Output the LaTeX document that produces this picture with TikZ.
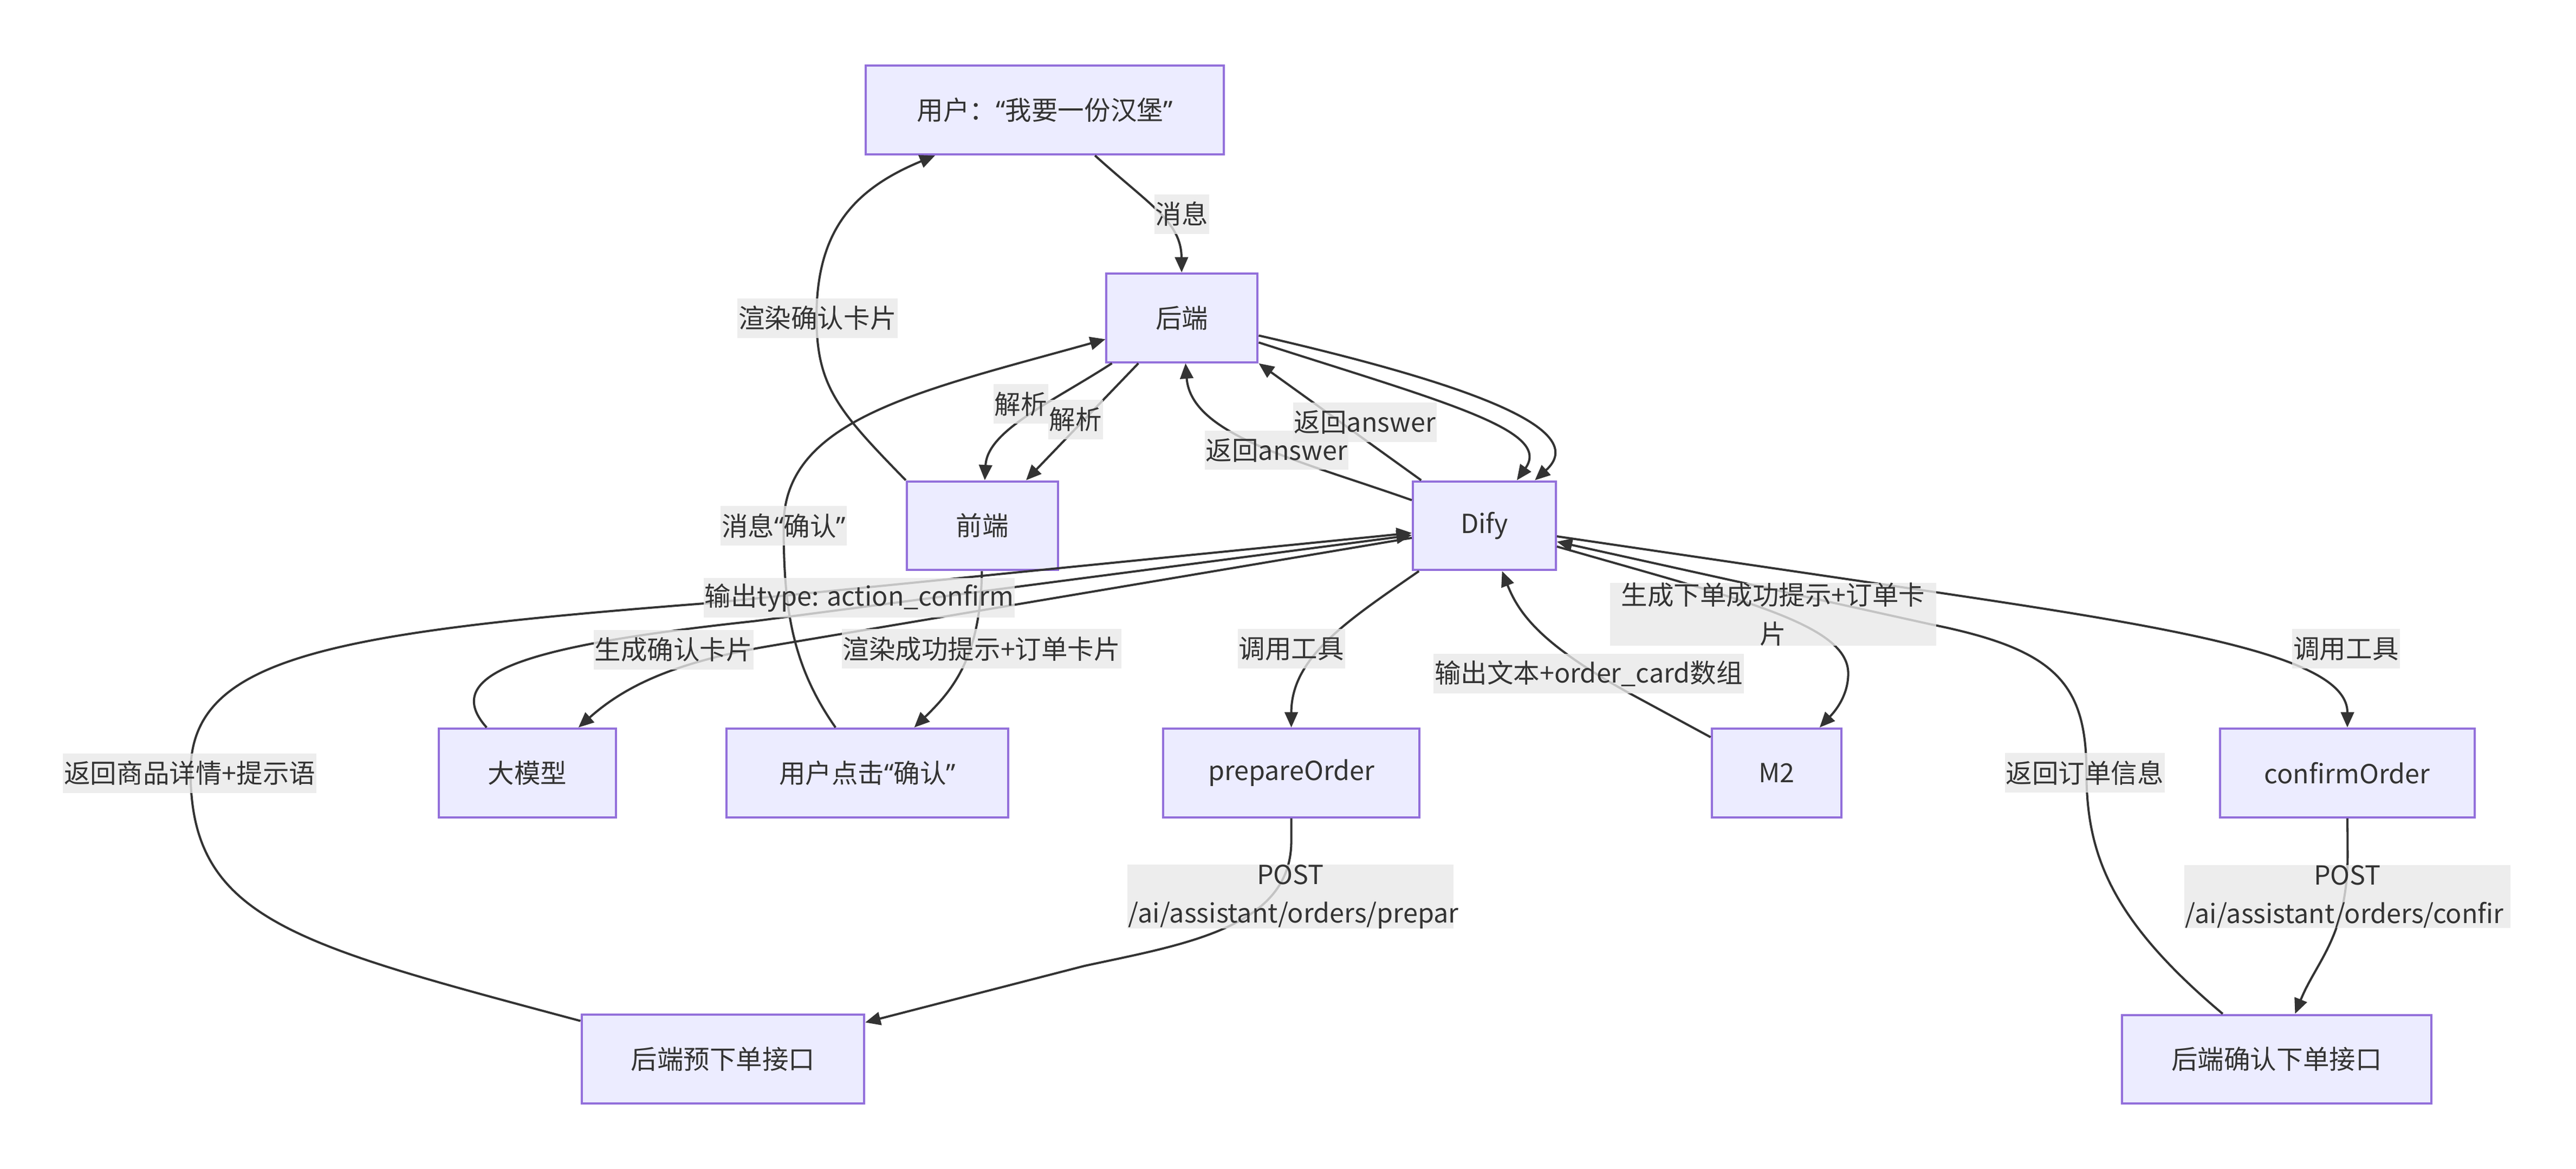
\documentclass[tikz,border=0pt]{standalone}
\usepackage{fontspec}
\setmainfont{Noto Sans CJK SC}
\newfontfamily\latinfont{Noto Sans}
\newcommand{\qopen}{{\latinfont “}}
\newcommand{\qclose}{{\latinfont ”}}
\usepackage{tikz}
\usetikzlibrary{arrows.meta, positioning}
\definecolor{nodefill}{HTML}{ECECFF}
\definecolor{nodeline}{HTML}{9370DB}
\definecolor{edgeline}{HTML}{333333}
\definecolor{lblgray}{HTML}{E8E8E8}

\begin{document}
\begin{tikzpicture}[
    x=0.75pt, y=-0.75pt,
    box/.style={draw=nodeline, line width=1pt, fill=nodefill, text=edgeline, inner xsep=22.5pt, inner ysep=0pt, minimum height=40.5pt, font=\fontsize{12}{17.6}\selectfont},
    lbl/.style={fill=lblgray, fill opacity=0.8, text opacity=1, text=edgeline, inner xsep=0.5pt, inner ysep=0pt, minimum height=18pt, font=\fontsize{12}{17.6}\selectfont},
    arrow/.style={-{Triangle[length=7pt, width=6pt]}, draw=edgeline, line width=1pt}
]
    \useasboundingbox (0,0) rectangle (1568,711.6);

    % Entities
    \node[box, inner xsep=15pt, minimum width=163.5pt] (user) at (636,67) {用户：\qopen 我要一份汉堡\qclose};
    \node[box] (backend) at (719.5,193.5) {后端};
    \node[box] (frontend) at (598,320) {前端};
    \node[box, inner xsep=15pt, minimum width=65.25pt] (dify) at (903.5,320) {Dify};
    \node[box] (llm) at (321,470.5) {大模型};
    \node[box, inner xsep=15pt, minimum width=128.6pt] (click) at (528,470.5) {用户点击\qopen 确认\qclose};
    \node[box, inner xsep=15pt, minimum width=117pt] (prepare) at (786,470.5) {prepareOrder};
    \node[box, inner xsep=15pt, minimum width=59.25pt] (mtwo) at (1081.4,470.5) {M2};
    \node[box, inner xsep=15pt, minimum width=116.25pt] (confirm) at (1428.7,470.5) {confirmOrder};
    \node[box] (preapi) at (440,644.7) {后端预下单接口};
    \node[box] (confapi) at (1385.8,644.8) {后端确认下单接口};

    % Relationships
    \draw[arrow] (user) .. controls (700,125) and (719,135) .. (backend);
    \draw[arrow] (frontend.north west) .. controls (510,250) and (497,235) .. (497,193) .. controls (497,140) and (520,115) .. (user);
    \draw[arrow] (backend) .. controls (640,245) and (601,262) .. (frontend);
    \draw[arrow] (backend) -- (frontend);
    \draw[arrow] (dify) .. controls (790,280) and (725,265) .. (backend);
    \draw[arrow] (dify) -- (backend.south east);
    \draw[arrow] (backend) .. controls (880,245) and (945,262) .. (dify);
    \draw[arrow] (backend) .. controls (900,235) and (968,262) .. (dify);
    \draw[arrow] (click) .. controls (482,405) and (477,370) .. (477,320) .. controls (477,255) and (560,238) .. (backend);
    \draw[arrow] (frontend) .. controls (597,400) and (580,420) .. (click);
    \draw[arrow] (dify) -- (470,393) .. controls (410,403) and (380,418) .. (llm);
    \draw[arrow] (llm) .. controls (265,408) and (330,392) .. (460,378) -- (dify);
    \draw[arrow] (preapi) .. controls (180,575) and (116,560) .. (116,470) .. controls (116,400) and (200,385) .. (433,367) -- (dify);
    \draw[arrow] (dify) .. controls (820,378) and (786,400) .. (prepare);
    \draw[arrow] (prepare) -- (786,512) .. controls (786,565) and (720,575) .. (660,588) -- (preapi);
    \draw[arrow] (dify) -- (1175,360) .. controls (1330,383) and (1429,400) .. (confirm);
    \draw[arrow] (confirm) -- (1429,520) .. controls (1429,570) and (1410,585) .. (confapi);
    \draw[arrow] (confapi) .. controls (1285,560) and (1270,520) .. (1270,470) .. controls (1270,415) and (1250,395) .. (1175,380) -- (dify);
    \draw[arrow] (dify) .. controls (1060,365) and (1125,380) .. (1125,410) .. controls (1125,425) and (1115,435) .. (mtwo);
    \draw[arrow] (mtwo) -- (990,421) .. controls (940,393) and (925,375) .. (dify);

    % Labels
    \node[lbl] (msg) at (719.3,130.3) {消息};
    \node[lbl] (rendercard) at (497.6,193.6) {渲染确认卡片};
    \node[lbl] (parseone) at (621.4,245.9) {解析};
    \node[lbl] (parsetwo) at (654.7,255.3) {解析};
    \node[lbl] (answerone) at (777,274) {返回answer};
    \node[lbl] (answertwo) at (830.8,257) {返回answer};
    \node[lbl] (msgconfirm) at (477,320) {消息\qopen 确认\qclose};
    \node[lbl] (rendersuccess) at (597.5,395) {渲染成功提示+订单卡片};
    \node[lbl] (callprep) at (786,395) {调用工具};
    \node[lbl] (gencard) at (410,395.5) {生成确认卡片};
    \node[lbl] (outtype) at (523,364) {输出type: action\_confirm};
    \node[lbl] (retgoods) at (115.5,470.6) {返回商品详情+提示语};
    \node[lbl] (outtext) at (967,410) {输出文本+order\_card数组};
    \node[lbl, text width=148pt, align=center] (gensuccess) at (1079.3,374) {生成下单成功提示+订单卡\\片};
    \node[lbl] (callconf) at (1428,395) {调用工具};
    \node[lbl] (retorder) at (1269,470.5) {返回订单信息};
    \node[lbl, text width=148pt, align=center] (postprep) at (785.5,545.8) {POST\\\makebox[148pt][l]{/ai/assistant/orders/prepar}};
    \node[lbl, text width=148pt, align=center] (postconf) at (1428.8,545.7) {POST\\\makebox[148pt][l]{/ai/assistant/orders/confir}};
\end{tikzpicture}
\end{document}
